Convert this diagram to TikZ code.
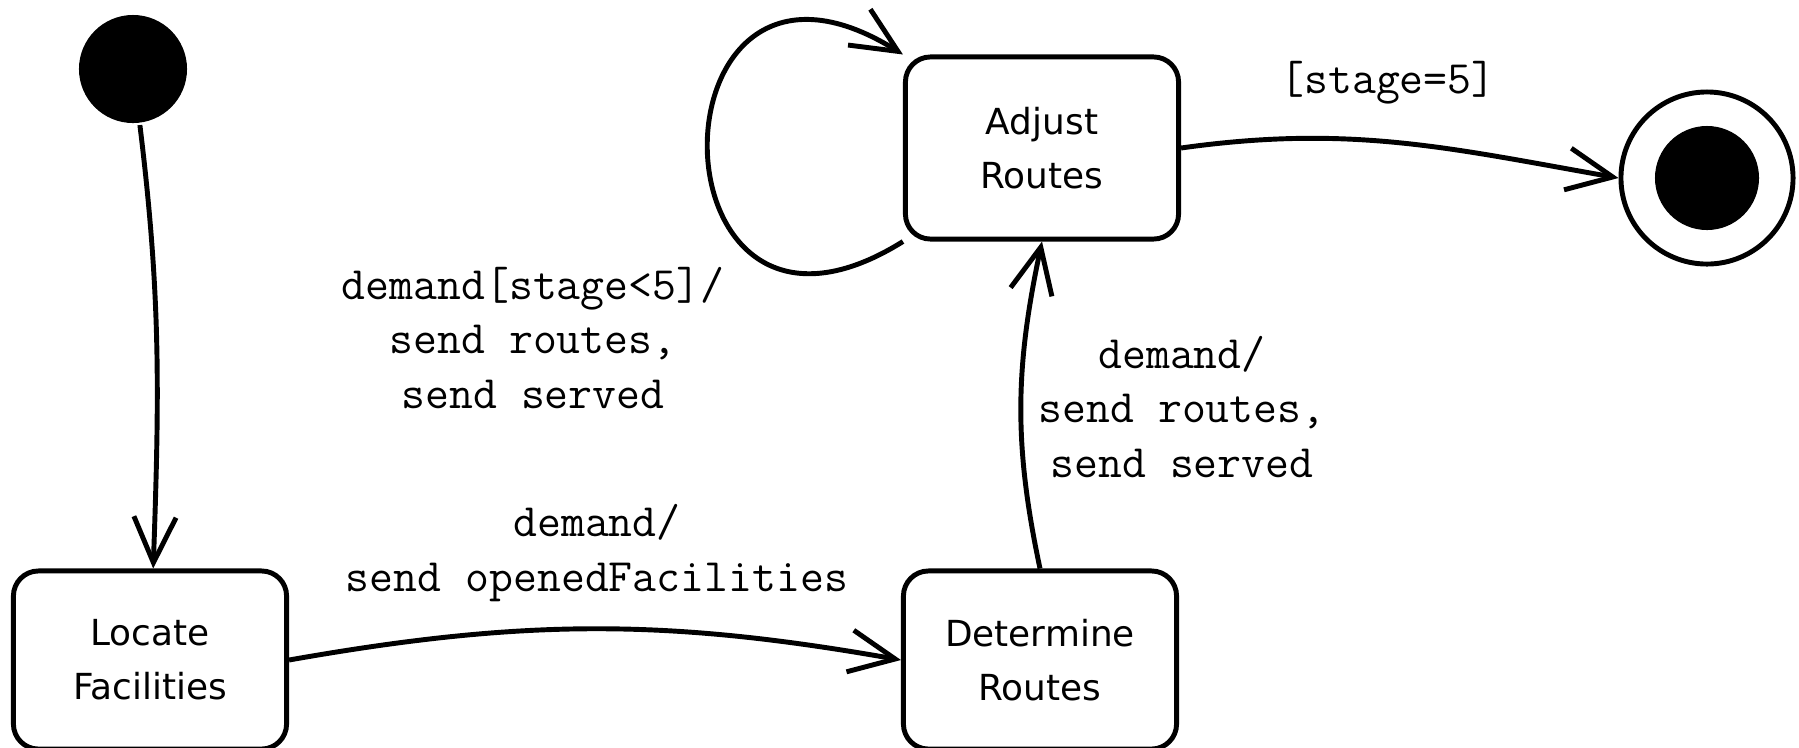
\documentclass[tikz,border=0pt]{standalone}
\usepackage{fontspec}
\setsansfont{DejaVu Sans}
\usetikzlibrary{arrows.meta}

\begin{document}
\begin{tikzpicture}[x=0.01cm, y=0.01cm, >={Straight Barb[length=13pt,width=12pt]}, line width=1.4pt,
    state/.style={draw, rounded corners=0.25cm, minimum width=2.73cm, minimum height=1.78cm,
        align=center, font=\sffamily\fontsize{10.2}{15.3}\selectfont},
    guard/.style={align=center, font=\ttfamily\fontsize{13.2}{15.4}\selectfont}]

        \useasboundingbox (0,0) rectangle (1799,747);

        % States
        \node[circle, fill=black, minimum size=1.08cm, inner sep=0pt] (init) at (133,678) {};
        \node[state] (locate) at (150,87) {Locate\\Facilities};
        \node[state] (determine) at (1040,87) {Determine\\Routes};
        \node[state, minimum height=1.82cm] (adjust) at (1042,599) {Adjust\\Routes};
        \node[circle, draw, minimum size=1.72cm, inner sep=0pt] (final) at (1707,569) {};
        \node[circle, fill=black, minimum size=1.04cm, inner sep=0pt] (finaldot) at (final) {};

        % Transitions
        \draw[->] (init) to[out=-83, in=88] (locate);
        \draw[->] (locate.east) to[out=10, in=170] (determine.west);
        \draw[->] (determine.north) to[out=102, in=-102] (adjust.south);
        \draw[->] (adjust.south west) to[out=212, in=148, looseness=4.2] (adjust.north west); % self loop
        \draw[->] (adjust.east) to[out=8, in=170] (final.west);

        % Guards and actions
        \node[guard] (openlbl) at (597,194) {demand/\\send openedFacilities};
        \node[guard] (looplbl) at (533,409) {demand[stage<5]/\\send routes,\\send served};
        \node[guard] (uplbl) at (1182,340) {demand/\\send routes,\\send served};
        \node[guard] (endlbl) at (1388,664) {[stage=5]};
        \end{tikzpicture}
\end{document}
